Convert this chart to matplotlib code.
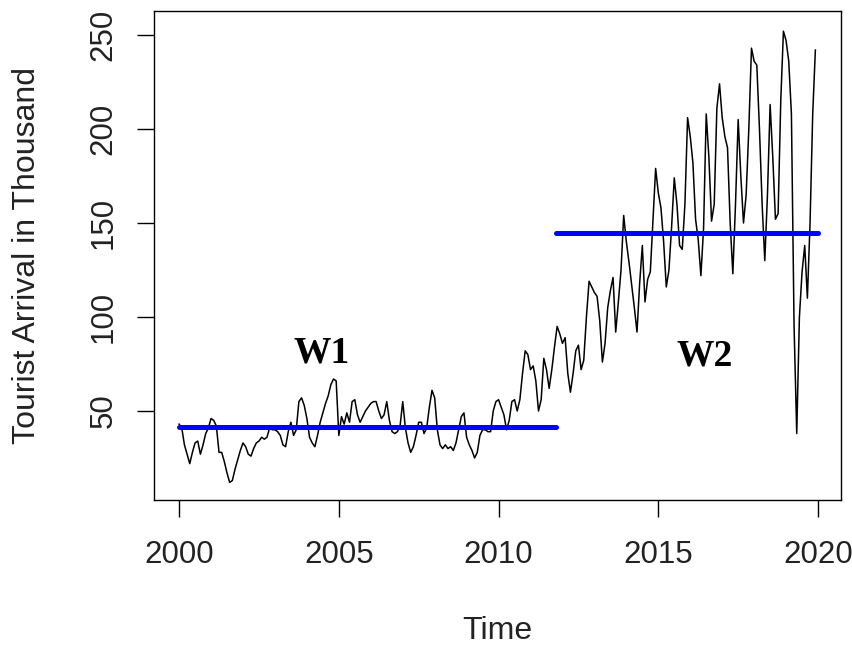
import numpy as np
import matplotlib
matplotlib.use("Agg")
import matplotlib.pyplot as plt

# Monthly tourist arrivals (thousand), Jan 2000 - Dec 2019
arr_2000_2004 = [43, 41, 32, 27, 22, 28, 33, 34, 27, 32, 38, 41,
                 46, 45, 42, 28, 28, 23, 17, 12, 13, 19, 24, 29,
                 33, 31, 27, 26, 30, 33, 34, 36, 35, 36, 41, 40,
                 40, 39, 37, 32, 31, 39, 44, 37, 40, 55, 57, 53,
                 46, 36, 33, 31, 37, 44, 49, 54, 58, 64, 67, 66]
arr_2005_2009 = [37, 47, 43, 49, 44, 55, 56, 48, 44, 47, 50, 52,
                 54, 55, 55, 50, 46, 48, 55, 45, 39, 38, 39, 42,
                 55, 41, 33, 28, 31, 37, 44, 44, 38, 41, 52, 61,
                 57, 40, 32, 30, 32, 30, 31, 29, 33, 40, 47, 49,
                 36, 32, 29, 25, 28, 37, 40, 40, 39, 39, 50, 55]
arr_2010_2014 = [56, 52, 48, 40, 45, 55, 56, 50, 56, 70, 82, 80,
                 72, 74, 66, 50, 56, 78, 72, 62, 72, 84, 95, 91,
                 86, 89, 70, 60, 70, 82, 85, 72, 77, 100, 119, 116,
                 113, 111, 98, 76, 86, 105, 114, 121, 92, 108, 125, 154,
                 140, 129, 117, 105, 92, 118, 138, 108, 120, 124, 152, 179]
arr_2015_2019 = [166, 158, 140, 116, 125, 148, 174, 160, 138, 136, 160, 206,
                 196, 182, 152, 141, 122, 147, 208, 185, 151, 160, 211, 224,
                 206, 196, 190, 150, 123, 160, 205, 175, 150, 165, 200, 243,
                 236, 234, 200, 160, 130, 165, 213, 185, 152, 155, 215, 252,
                 247, 236, 208, 95, 38, 100, 124, 138, 110, 150, 208, 242]
start_year = 2000

# Window mean levels
w1_level = 41.7
w1_span = [2000.0, 2011.8]
w2_level = 144.7
w2_span = [2011.8, 2020.0]
w1_label_pos = (2004.46, 75.8)
w2_label_pos = (2016.45, 74.0)

x_ticks = [2000, 2005, 2010, 2015, 2020]
y_ticks = [50, 100, 150, 200, 250]

arrivals = np.array(arr_2000_2004 + arr_2005_2009 + arr_2010_2014 + arr_2015_2019, dtype=float)
time = start_year + np.arange(len(arrivals)) / 12.0

plt.rcParams['font.family'] = ['Liberation Sans', 'DejaVu Sans']
text_color = '#222222'

fig = plt.figure(figsize=(8.53, 6.52), dpi=100)
ax = fig.add_axes([0.18, 0.2324, 0.8056, 0.7503])

ax.plot(time, arrivals, color='black', lw=1.1)
ax.plot(w1_span, [w1_level, w1_level], color='#0000ff', lw=3.6, solid_capstyle='round')
ax.plot(w2_span, [w2_level, w2_level], color='#0000ff', lw=3.6, solid_capstyle='round')

ax.text(w1_label_pos[0], w1_label_pos[1], 'W1', family='Liberation Serif',
        fontweight='bold', fontsize=27, ha='center', va='baseline')
ax.text(w2_label_pos[0], w2_label_pos[1], 'W2', family='Liberation Serif',
        fontweight='bold', fontsize=27, ha='center', va='baseline')

ax.set_xlim(1999.2, 2020.71)
ax.set_ylim(2.4, 262.6)
ax.set_xticks(x_ticks)
ax.set_yticks(y_ticks)
ax.set_xticklabels([str(t) for t in x_ticks])
ax.set_yticklabels([str(t) for t in y_ticks], rotation=90, va='center')
ax.tick_params(direction='out', length=12.2, width=1.0, labelsize=22.5,
               color='black', labelcolor=text_color)
ax.tick_params(axis='x', pad=16)
ax.tick_params(axis='y', pad=13)
for s in ax.spines.values():
    s.set_linewidth(1.0)

ax.set_xlabel('Time', fontsize=23, color=text_color)
ax.set_ylabel('Tourist Arrival in Thousand', fontsize=23, color=text_color)
ax.xaxis.set_label_coords(0.5, -0.236)
ax.yaxis.set_label_coords(-0.163, 0.5)

fig.savefig('out.png', dpi=100)
